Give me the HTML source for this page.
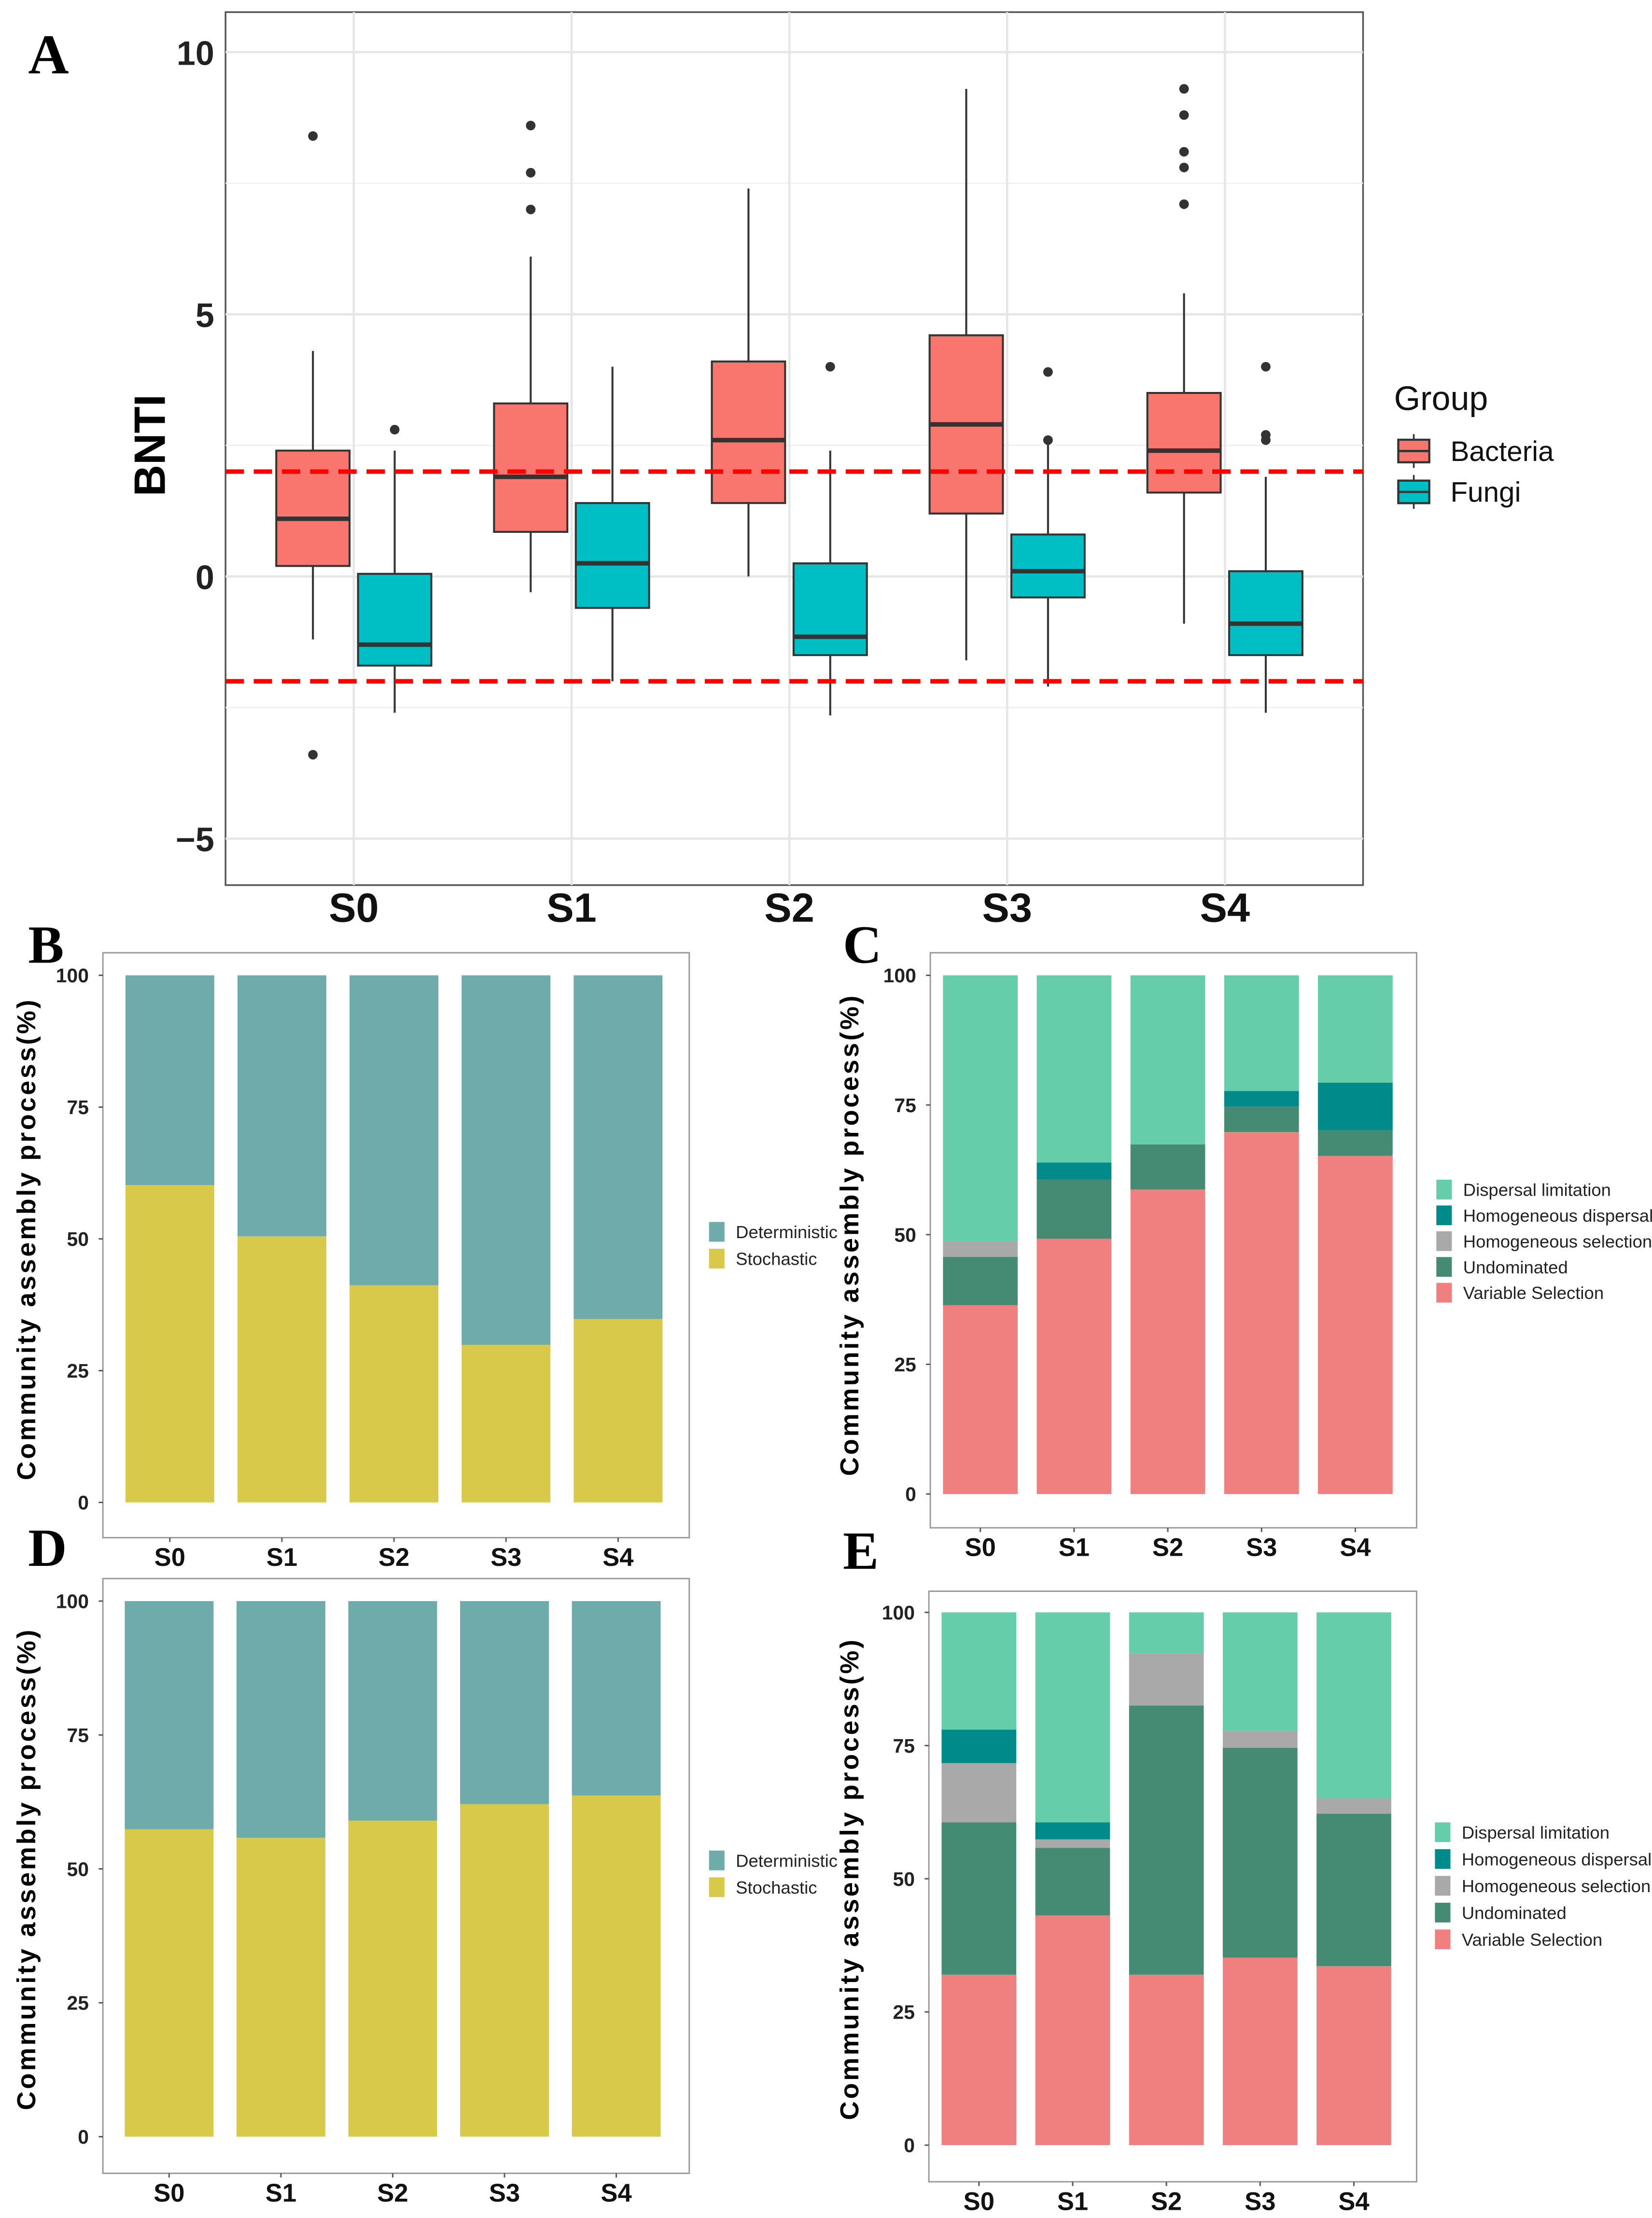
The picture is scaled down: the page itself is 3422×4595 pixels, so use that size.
<!DOCTYPE html>
<html><head><meta charset="utf-8"><style>
html,body{margin:0;padding:0;background:#fff;}
svg{display:block;}
text{font-family:"Liberation Sans",sans-serif;}
text.serif{font-family:"Liberation Serif",serif;}
</style></head><body>
<svg id="fig" xmlns="http://www.w3.org/2000/svg" width="3422" height="4595" viewBox="0 0 1172 1573.7" preserveAspectRatio="none">
<rect x="0" y="0" width="1172" height="1574" fill="#fff"/>
</svg>
<script>
// ---------- Panel A data ----------
const groupsA = ["S0","S1","S2","S3","S4"];
const bactLow = [-1.2,-0.3,0.0,-1.6,-0.9];
const bactQ1 = [0.2,0.85,1.4,1.2,1.6];
const bactMed = [1.1,1.9,2.6,2.9,2.4];
const bactQ3 = [2.4,3.3,4.1,4.6,3.5];
const bactHigh = [4.3,6.1,7.4,9.3,5.4];
const bactOut = [[8.4,-3.4],[8.6,7.7,7.0],[],[],[9.3,8.8,8.1,7.8,7.1]];
const fungLow = [-2.6,-2.0,-2.65,-2.1,-2.6];
const fungQ1 = [-1.7,-0.6,-1.5,-0.4,-1.5];
const fungMed = [-1.3,0.25,-1.15,0.1,-0.9];
const fungQ3 = [0.05,1.4,0.25,0.8,0.1];
const fungHigh = [2.4,4.0,2.4,2.6,1.9];
const fungOut = [[2.8],[],[4.0],[3.9,2.6],[4.0,2.7,2.6]];
const ticksA = [-5,0,5,10];
const thresholds = [2,-2];

// ---------- Panel B / D data ----------
const catsBD = ["S0","S1","S2","S3","S4"];
const stochB = [60.2,50.5,41.2,29.9,34.8];
const stochD = [57.4,55.8,59.0,62.1,63.7];
const ticksPct = [0,25,50,75,100];

// ---------- Panel C / E data ----------
const varSelC = [36.4,49.2,58.7,69.8,65.2];
const undomC = [9.3,11.4,8.7,4.9,4.9];
const homSelC = [3.0,0,0,0,0];
const homDispC = [0,3.3,0,3.0,9.2];
const varSelE = [32.0,43.1,32.0,35.2,33.6];
const undomE = [28.6,12.7,50.5,39.4,28.6];
const homSelE = [11.1,1.6,9.8,3.2,2.9];
const homDispE = [6.3,3.2,0,0,0];

const NS="http://www.w3.org/2000/svg";
const svg=document.getElementById('fig');
function el(tag,attrs,parent){const e=document.createElementNS(NS,tag);for(const k in attrs)e.setAttribute(k,attrs[k]);(parent||svg).appendChild(e);return e;}
function txt(s,attrs,parent){const e=el('text',attrs,parent);e.textContent=s;return e;}

// ===== Panel A =====
const A={l:160,r:967,t:8.6,b:628};
const yA=v=>409-v*37.2;
const xA=i=>251+i*154.5;
let t=txt('A',{x:20,y:52,'font-size':40,'font-weight':'bold','class':'serif'});


let r=el('rect',{x:A.l,y:A.t,width:A.r-A.l,height:A.b-A.t,fill:'#fff',stroke:'#555','stroke-width':1.2});


[7.5,2.5,-2.5].forEach(v=>{const g=el('line',{x1:A.l,x2:A.r,y1:yA(v),y2:yA(v),stroke:'#f0f0f0','stroke-width':1});

});
ticksA.forEach(v=>{const g=el('line',{x1:A.l,x2:A.r,y1:yA(v),y2:yA(v),stroke:'#e6e6e6','stroke-width':1.6});


const tl=txt(v<0?'\u2212'+(-v):String(v),{x:152,y:yA(v)+9,'text-anchor':'end','font-size':24,'font-weight':'bold',fill:'#222'});

});
groupsA.forEach((g,i)=>{const l=el('line',{x1:xA(i),x2:xA(i),y1:A.t,y2:A.b,stroke:'#e6e6e6','stroke-width':1.6});


const tl=txt(g,{x:xA(i),y:654,'text-anchor':'middle','font-size':29,'font-weight':'bold',fill:'#111'});

});
function box(cx,lo,q1,md,q3,hi,outs,fill,name){
  const w=el('line',{x1:cx,x2:cx,y1:yA(hi),y2:yA(lo),stroke:'#333','stroke-width':1.4});
  
  
  const b=el('rect',{x:cx-26,y:yA(q3),width:52,height:yA(q1)-yA(q3),fill:fill,stroke:'#333','stroke-width':1.4});
  
  
  const m=el('line',{x1:cx-26,x2:cx+26,y1:yA(md),y2:yA(md),stroke:'#333','stroke-width':3.2});
  
  
  outs.forEach(o=>{const c=el('circle',{cx:cx,cy:yA(o),r:3.4,fill:'#333'});
  
  });
}
groupsA.forEach((g,i)=>{
  box(xA(i)-29,bactLow[i],bactQ1[i],bactMed[i],bactQ3[i],bactHigh[i],bactOut[i],'#F8766D','bacteria-'+g.toLowerCase());
  box(xA(i)+29,fungLow[i],fungQ1[i],fungMed[i],fungQ3[i],fungHigh[i],fungOut[i],'#00BFC4','fungi-'+g.toLowerCase());
});
thresholds.forEach(v=>{const l=el('line',{x1:A.l,x2:A.r,y1:yA(v),y2:yA(v),stroke:'#ff0000','stroke-width':3.2,'stroke-dasharray':'13,7'});

});
t=txt('BNTI',{x:0,y:0,transform:'translate(117,316) rotate(-90)','text-anchor':'middle','font-size':31,'font-weight':'bold'});


t=txt('Group',{x:989,y:291,'font-size':24,fill:'#111'});


[['Bacteria','#F8766D',320],['Fungi','#00BFC4',349]].forEach(([n,c,cy])=>{
  const k=el('line',{x1:1003,x2:1003,y1:cy-12,y2:cy+12,stroke:'#333','stroke-width':1.2});
  
  
  const b=el('rect',{x:992,y:cy-8,width:22,height:16,fill:c,stroke:'#333','stroke-width':1.5});
  
  
  const m=el('line',{x1:992,x2:1014,y1:cy,y2:cy,stroke:'#333','stroke-width':1.6});
  
  
  const tl=txt(n,{x:1029,y:cy+7,'font-size':20,fill:'#111'});
  
  
});

// ===== Stacked bar panels =====
function panel(o){
  const y=v=>o.y0-v*(o.y0-o.y100)/100;
  let l=txt(o.letter,{x:o.lx,y:o.ly,'font-size':38,'font-weight':'bold','class':'serif'});
  
  
  const fr=el('rect',{x:o.box[0],y:o.box[1],width:o.box[2]-o.box[0],height:o.box[3]-o.box[1],fill:'#fff',stroke:'#999','stroke-width':1});
  
  
  ticksPct.forEach(v=>{const tl=txt(String(v),{x:o.box[0]-10,y:y(v)+5,'text-anchor':'end','font-size':14,'font-weight':'bold',fill:'#222'});
  
  
  const tk=el('line',{x1:o.box[0]-3,x2:o.box[0],y1:y(v),y2:y(v),stroke:'#555','stroke-width':1});
  
  });
  const yt=txt('Community assembly process(%)',{x:0,y:0,transform:`translate(${o.titleX},${(y(0)+y(100))/2}) rotate(-90)`,'text-anchor':'middle','font-size':18.5,'font-weight':'bold','letter-spacing':'1.6'});
  
  
  catsBD.forEach((c,i)=>{
    const cx=o.x0+i*o.step;
    let base=0;
    o.series.forEach(s=>{
      const v=s.vals?s.vals[i]:100-base;
      if(v>0){
        const b=el('rect',{x:cx-o.bw/2,y:y(base+v),width:o.bw,height:y(base)-y(base+v),fill:s.color});
        
        
      }
      base+=v;
    });
    const tk=el('line',{x1:cx,x2:cx,y1:o.box[3],y2:o.box[3]+3,stroke:'#555','stroke-width':1});
    
    
    const tl=txt(c,{x:cx,y:o.box[3]+20,'text-anchor':'middle','font-size':18,'font-weight':'bold',fill:'#111'});
    
    
  });
  o.legend.forEach((s,j)=>{
    const ly=o.legY+j*o.legStep;
    const k=el('rect',{x:o.legX,y:ly-7,width:11,height:14,fill:s[1]});
    
    
    const tl=txt(s[0],{x:o.legX+19,y:ly+4.5,'font-size':12.5,fill:'#222'});
    
    
  });
}
const DET='#6FABAB',STO='#D9C94A';
const DL='#66CDAA',HD='#008B8B',HS='#A9A9A9',UD='#458B74',VS='#F08080';
const legBD=[['Deterministic',DET],['Stochastic',STO]];
const legCE=[['Dispersal limitation',DL],['Homogeneous dispersal',HD],['Homogeneous selection',HS],['Undominated',UD],['Variable Selection',VS]];
panel({letter:'B',lx:20,ly:683,box:[73,676,489,1091],y0:1066,y100:692,x0:120.5,step:79.5,bw:63,titleX:25,
  series:[{key:'stochastic',vals:stochB,color:STO},{key:'deterministic',color:DET}],legend:legBD,legX:503,legY:874,legStep:19});
panel({letter:'C',lx:598,ly:683,box:[660,676,1005,1084],y0:1060,y100:692,x0:695.5,step:66.5,bw:53,titleX:609,
  series:[{key:'variable-selection',vals:varSelC,color:VS},{key:'undominated',vals:undomC,color:UD},{key:'homogeneous-selection',vals:homSelC,color:HS},{key:'homogeneous-dispersal',vals:homDispC,color:HD},{key:'dispersal-limitation',color:DL}],
  legend:legCE,legX:1019,legY:844,legStep:18.3});
panel({letter:'D',lx:20,ly:1111,box:[73,1120,489,1542],y0:1516,y100:1136,x0:120,step:79.3,bw:63,titleX:25,
  series:[{key:'stochastic',vals:stochD,color:STO},{key:'deterministic',color:DET}],legend:legBD,legX:503,legY:1320,legStep:19});
panel({letter:'E',lx:598,ly:1113,box:[659,1129,1005,1548],y0:1522,y100:1144,x0:694.5,step:66.5,bw:53,titleX:609,
  series:[{key:'variable-selection',vals:varSelE,color:VS},{key:'undominated',vals:undomE,color:UD},{key:'homogeneous-selection',vals:homSelE,color:HS},{key:'homogeneous-dispersal',vals:homDispE,color:HD},{key:'dispersal-limitation',color:DL}],
  legend:legCE,legX:1018,legY:1300,legStep:19});
</script>
</body></html>
